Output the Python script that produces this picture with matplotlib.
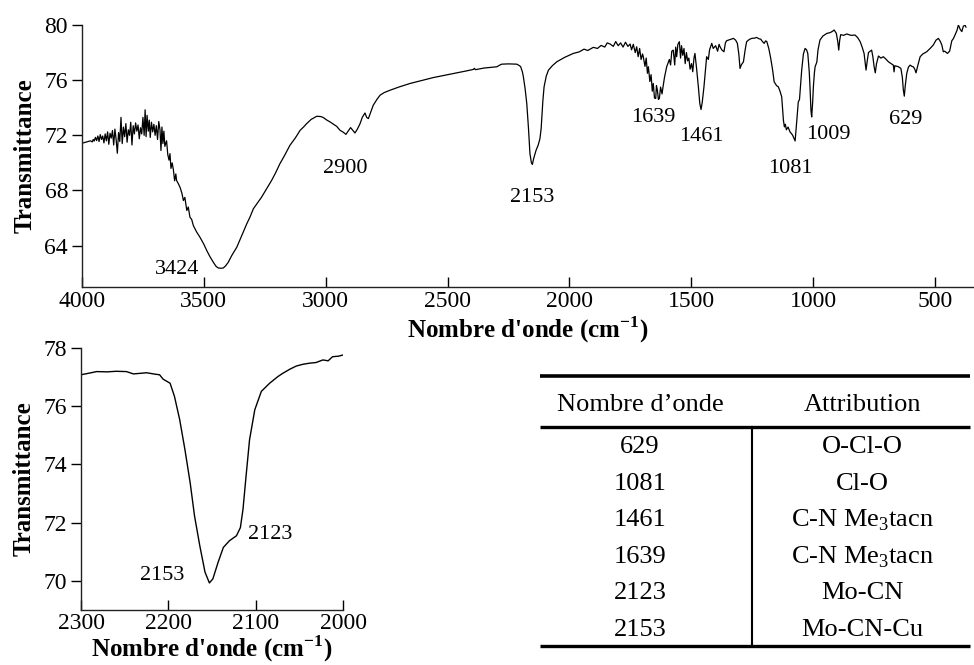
import matplotlib
matplotlib.use("Agg")
import matplotlib.pyplot as plt

plt.rcParams['font.family'] = ['Liberation Serif', 'DejaVu Serif']
plt.rcParams['mathtext.fontset'] = 'custom'
plt.rcParams['mathtext.rm'] = 'Liberation Serif'
plt.rcParams['mathtext.bf'] = 'Liberation Serif:bold'

# full IR spectrum (wavenumber, transmittance)
wn_full = [3997, 3985, 3975, 3965, 3958, 3954, 3950, 3945, 3940, 3935, 3930, 3925, 3920, 3915,
           3910, 3905, 3900, 3895, 3890, 3885, 3880, 3875, 3870, 3865, 3860, 3855, 3850, 3845,
           3840, 3835, 3830, 3825, 3820, 3815, 3810, 3805, 3800, 3795, 3790, 3785, 3780, 3775,
           3770, 3765, 3760, 3755, 3750, 3745, 3741, 3737, 3733, 3728, 3724, 3720, 3715, 3710,
           3705, 3700, 3695, 3690, 3685, 3680, 3676, 3672, 3668, 3664, 3660, 3653, 3648, 3643,
           3639, 3635, 3630, 3625, 3620, 3615, 3612, 3605, 3598, 3590, 3584, 3578, 3570, 3564,
           3557, 3550, 3543, 3530, 3516, 3500, 3488, 3475, 3461, 3450, 3441, 3430, 3420, 3410,
           3400, 3385, 3365, 3345, 3324, 3310, 3297, 3280, 3263, 3245, 3222, 3205, 3188, 3170,
           3147, 3125, 3105, 3090, 3078, 3060, 3037, 3020, 3010, 2995, 2982, 2968, 2955, 2941,
           2930, 2917, 2908, 2898, 2888, 2880, 2870, 2859, 2850, 2839, 2832, 2825, 2815, 2805,
           2790, 2777, 2760, 2736, 2700, 2654, 2600, 2558, 2510, 2463, 2420, 2394, 2390, 2386,
           2350, 2298, 2285, 2278, 2250, 2216, 2205, 2200, 2193, 2189, 2182, 2175, 2168, 2162,
           2156, 2152, 2147, 2137, 2128, 2121, 2116, 2114, 2109, 2104, 2095, 2086, 2070, 2052,
           2020, 1984, 1960, 1940, 1925, 1902, 1885, 1870, 1855, 1845, 1833, 1820, 1810, 1800,
           1790, 1780, 1770, 1760, 1751, 1745, 1738, 1730, 1724, 1718, 1712, 1706, 1700, 1697,
           1690, 1685, 1680, 1676, 1670, 1665, 1660, 1656, 1651, 1646, 1643, 1639, 1635, 1631,
           1626, 1620, 1617, 1610, 1601, 1590, 1585, 1580, 1574, 1568, 1564, 1560, 1555, 1549,
           1544, 1540, 1535, 1530, 1525, 1520, 1515, 1510, 1505, 1499, 1494, 1489, 1485, 1478,
           1471, 1465, 1460, 1455, 1448, 1442, 1437, 1430, 1425, 1416, 1410, 1400, 1392, 1386,
           1382, 1375, 1366, 1360, 1355, 1340, 1327, 1318, 1311, 1305, 1300, 1295, 1286, 1279,
           1273, 1262, 1252, 1240, 1232, 1222, 1215, 1208, 1201, 1195, 1190, 1182, 1174, 1166,
           1160, 1150, 1143, 1136, 1129, 1124, 1122, 1118, 1114, 1110, 1103, 1095, 1088, 1084,
           1078, 1074, 1070, 1067, 1061, 1056, 1050, 1047, 1040, 1033, 1027, 1022, 1016, 1013,
           1009, 1006, 1002, 999, 995, 992, 985, 980, 972, 960, 944, 930, 920, 914, 905, 899,
           895, 891, 887, 875, 862, 845, 828, 818, 807, 799, 791, 786, 783, 778, 773, 769, 760,
           755, 750, 745, 740, 732, 722, 712, 700, 691, 680, 671, 668, 665, 656, 650, 640, 634,
           630, 626, 622, 616, 609, 602, 595, 589, 583, 578, 570, 561, 550, 534, 520, 507, 496,
           486, 478, 472, 466, 460, 449, 440, 431, 425, 418, 410, 404, 397, 390, 384, 377, 373]
tr_full = [71.44, 71.50, 71.55, 71.60, 71.52, 71.70, 71.58, 71.85, 71.62, 71.95, 71.55, 72.05, 71.70, 71.95,
           71.45, 72.10, 71.60, 72.25, 71.35, 72.15, 71.80, 72.35, 71.30, 72.45, 71.70, 70.70, 72.20, 71.55,
           73.30, 71.40, 72.60, 71.90, 72.85, 71.50, 72.40, 72.00, 72.95, 71.30, 72.70, 72.10, 72.90, 72.30,
           72.75, 71.75, 72.55, 72.10, 73.30, 72.00, 73.85, 71.90, 73.45, 72.30, 73.10, 71.85, 72.95, 72.25,
           72.80, 72.00, 72.70, 71.70, 73.00, 72.40, 70.90, 72.60, 71.40, 72.30, 71.20, 71.60, 70.60, 70.20,
           70.67, 69.60, 70.00, 69.50, 68.70, 69.20, 68.73, 68.50, 68.24, 67.80, 67.27, 67.50, 66.55, 66.80,
           66.06, 65.90, 65.45, 65.00, 64.61, 64.10, 63.64, 63.20, 62.79, 62.50, 62.38, 62.36, 62.38, 62.55,
           62.79, 63.30, 63.88, 64.70, 65.58, 66.10, 66.67, 67.10, 67.52, 68.05, 68.73, 69.30, 69.94, 70.50,
           71.27, 71.80, 72.36, 72.62, 72.85, 73.15, 73.38, 73.36, 73.29, 73.10, 72.97, 72.80, 72.65, 72.36,
           72.25, 72.07, 72.30, 72.56, 72.35, 72.17, 72.45, 72.85, 73.30, 73.62, 73.30, 73.21, 73.70, 74.18,
           74.60, 74.91, 75.10, 75.27, 75.50, 75.76, 76.00, 76.19, 76.36, 76.53, 76.68, 76.78, 76.86, 76.76,
           76.88, 76.97, 77.10, 77.16, 77.18, 77.16, 77.05, 76.97, 76.60, 76.24, 75.40, 74.30, 72.50, 70.67,
           70.00, 69.89, 70.30, 70.91, 71.30, 71.76, 72.50, 73.09, 74.50, 75.52, 76.30, 76.73, 77.05, 77.33,
           77.65, 77.94, 78.05, 78.25, 78.15, 78.38, 78.30, 78.52, 78.40, 78.70, 78.62, 78.45, 78.80, 78.50,
           78.70, 78.40, 78.75, 78.45, 78.62, 78.20, 78.60, 78.00, 78.42, 77.70, 78.30, 77.50, 77.90, 77.70,
           77.00, 77.60, 76.50, 76.97, 75.90, 76.40, 75.20, 75.76, 74.70, 74.67, 75.60, 75.27, 74.60, 74.67,
           75.50, 75.00, 75.39, 76.20, 76.97, 77.50, 77.10, 78.10, 78.18, 77.10, 78.40, 77.70, 78.60, 78.79,
           77.60, 78.50, 77.80, 78.30, 77.20, 78.00, 77.40, 77.60, 76.80, 77.20, 76.61, 77.60, 77.94, 76.80,
           75.52, 74.30, 73.87, 74.40, 75.52, 76.70, 77.70, 77.50, 78.20, 78.67, 78.30, 78.50, 78.10, 78.60,
           78.42, 78.20, 78.06, 78.70, 78.86, 78.95, 79.03, 78.90, 78.67, 77.90, 76.85, 77.10, 77.33, 78.20,
           78.79, 78.95, 79.03, 79.05, 79.10, 79.00, 78.97, 78.80, 78.67, 78.85, 78.79, 78.30, 77.58, 76.70,
           75.88, 75.60, 75.52, 75.20, 74.79, 73.60, 73.09, 72.61, 72.80, 72.40, 72.60, 72.25, 72.10, 72.00,
           71.75, 71.59, 72.50, 73.09, 74.42, 74.60, 76.00, 76.73, 77.90, 78.30, 78.20, 77.94, 76.60, 75.52,
           73.80, 73.33, 74.40, 75.52, 76.50, 76.97, 77.30, 78.20, 78.91, 79.20, 79.39, 79.45, 79.55, 79.64, 79.40, 78.80,
           78.18, 78.90, 79.30, 79.25, 79.35, 79.25, 79.27, 79.10, 78.79, 78.40, 77.94, 77.20, 76.73, 77.40, 78.00, 78.06, 78.18,
           77.70, 77.00, 76.53, 77.20, 77.75, 77.60, 77.70, 77.50, 77.33, 77.20, 77.09, 76.60, 77.05, 77.00, 76.97, 76.85, 76.20,
           75.30, 74.84, 75.60, 76.48, 76.95, 77.09, 77.00, 76.97, 76.80, 76.53, 77.10, 77.70, 77.90, 78.06, 78.30, 78.55, 78.90,
           79.03, 78.80, 78.55, 78.06, 78.10, 77.94, 78.10, 78.86, 79.00, 79.27, 79.60, 80.00, 79.70, 79.52, 79.90, 80.00, 79.85]

# zoom on the cyanide band
wn_zoom = [2300, 2290, 2282, 2270, 2260, 2248, 2240, 2232, 2225, 2215, 2210, 2206, 2198, 2193,
           2187, 2181, 2175, 2170, 2164, 2158, 2153, 2149, 2143, 2137, 2130, 2122, 2117.5, 2114.5,
           2111, 2107, 2101, 2093.5, 2084, 2074.5, 2069, 2061, 2053.5, 2046, 2038, 2031, 2023,
           2017, 2012, 2005, 2000]
tr_zoom = [77.08, 77.14, 77.19, 77.18, 77.20, 77.19, 77.11, 77.13, 77.15, 77.10, 77.08, 76.93, 76.79, 76.34,
           75.54, 74.51, 73.37, 72.23, 71.21, 70.30, 69.93, 70.07, 70.64, 71.15, 71.38, 71.55, 71.83, 72.46,
           73.60, 74.85, 75.88, 76.51, 76.79, 77.02, 77.13, 77.27, 77.38, 77.44, 77.48, 77.50, 77.59,
           77.56, 77.70, 77.72, 77.76]

# peak labels (text, x, y)
peak_txt = ['3424', '2900', '2153', '1639', '1461', '1081', '1009', '629']
peak_x = [3610, 2921, 2153, 1657, 1460, 1095, 939, 619]
peak_y = [62.3, 69.6, 67.5, 73.3, 71.9, 69.6, 72.05, 73.15]

zoom_txt = ['2153', '2123']
zoom_x = [2207, 2083]
zoom_y = [70.17, 71.6]

# assignment table
tab_head = ['Nombre d\u2019onde', 'Attribution']
tab_wn = ['629', '1081', '1461', '1639', '2123', '2153']
tab_attr = ['O-Cl-O', 'Cl-O', 'C-N Me$_\\mathregular{3}$tacn', 'C-N Me$_\\mathregular{3}$tacn',
            'Mo-CN', 'Mo-CN-Cu']

W, H = 974, 665
fig = plt.figure(figsize=(W / 100, H / 100), dpi=100)

xlab = "Nombre d'onde (cm$^{\\mathregular{-1}}$)"


def style(ax, xpad, lpad):
    for s in ['top', 'right']:
        ax.spines[s].set_visible(False)
    for s in ['left', 'bottom']:
        ax.spines[s].set_linewidth(1.0)
        ax.spines[s].set_color('#222222')
    ax.tick_params(axis='x', direction='in', length=7, width=1, labelsize=17, pad=xpad)
    ax.tick_params(axis='y', direction='out', length=7, width=1, labelsize=17, pad=3)
    ax.set_ylabel('Transmittance', fontsize=18, fontweight='bold', labelpad=6)
    ax.set_xlabel(xlab, fontsize=18, fontweight='bold', labelpad=lpad)


# main spectrum
ax1 = fig.add_axes([82 / W, 1 - 287 / H, (W - 82) / W, (287 - 25) / H])
ax1.plot(wn_full, tr_full, color='black', lw=0.9)
ax1.set_xlim(4000, 340)
ax1.set_ylim(61, 80)
ax1.set_xticks([4000, 3500, 3000, 2500, 2000, 1500, 1000, 500])
ax1.set_yticks([64, 68, 72, 76, 80])
style(ax1, 3, 2)
for t, x, y in zip(peak_txt, peak_x, peak_y):
    ax1.text(x, y, t, ha='center', va='center', fontsize=16)

# zoom
ax2 = fig.add_axes([81 / W, 1 - 610 / H, (343 - 81) / W, (610 - 348) / H])
ax2.plot(wn_zoom, tr_zoom, color='black', lw=1.0)
ax2.set_xlim(2300, 2000)
ax2.set_ylim(69, 78)
ax2.set_xticks([2300, 2200, 2100, 2000])
ax2.set_yticks([70, 72, 74, 76, 78])
style(ax2, 2, -0.5)
for t, x, y in zip(zoom_txt, zoom_x, zoom_y):
    ax2.text(x, y, t, ha='center', va='center', fontsize=16)

# table drawn in pixel coordinates
ax3 = fig.add_axes([0, 0, 1, 1])
ax3.set_xlim(0, W)
ax3.set_ylim(H, 0)
ax3.axis('off')
ax3.patch.set_visible(False)
x0, x1, xmid = 540, 970, 752
c1, c2 = 640, 862
y_top, y_head, y_line, y_bot = 376, 405, 427, 646
row0, dy = 447, 36.6
ax3.plot([x0, x1], [y_top, y_top], color='black', lw=2.6, solid_capstyle='butt')
ax3.plot([x0, x1], [y_line, y_line], color='black', lw=2.4, solid_capstyle='butt')
ax3.plot([x0, x1], [y_bot, y_bot], color='black', lw=2.4, solid_capstyle='butt')
ax3.plot([xmid, xmid], [y_line, y_bot], color='black', lw=1.5)
ax3.text(c1, y_head, tab_head[0], ha='center', va='center', fontsize=19)
ax3.text(c2, y_head, tab_head[1], ha='center', va='center', fontsize=19)
for i, (a, b) in enumerate(zip(tab_wn, tab_attr)):
    ax3.text(c1, row0 + i * dy, a, ha='center', va='center', fontsize=19)
    ax3.text(c2, row0 + i * dy, b, ha='center', va='center', fontsize=19)

fig.savefig('out.png', dpi=100)
